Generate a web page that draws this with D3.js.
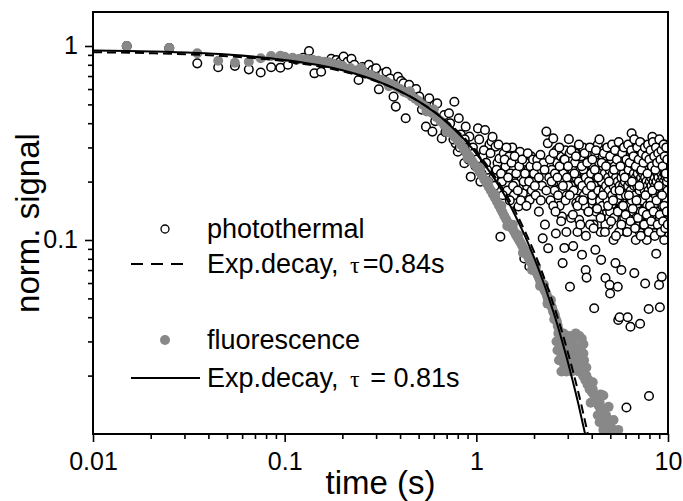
<!DOCTYPE html>
<html>
<head>
<meta charset="utf-8">
<script src="https://cdn.jsdelivr.net/npm/d3@7"></script>
<style>
  body { margin: 0; background: #fff; }
  svg { display: block; font-family: "Liberation Sans", Arial, sans-serif; }
</style>
</head>
<body>
<svg id="chart" width="683" height="501"></svg>
<script>
// ---- data: [time (s), normalised signal] ----
const photothermalEarly = [
  [0.015, 1.0], [0.025, 0.976], [0.035, 0.814], [0.045, 0.777], [0.055, 0.79],
  [0.065, 0.758], [0.075, 0.73], [0.085, 0.777]
];

const photothermalDecay = [
  [0.095, 0.773], [0.104, 0.80], [0.115, 0.85], [0.125, 0.87], [0.134, 0.942], [0.143, 0.723],
  [0.155, 0.737], [0.165, 0.82], [0.175, 0.86], [0.186, 0.847], [0.195, 0.83], [0.203, 0.881],
  [0.213, 0.83], [0.223, 0.86], [0.231, 0.80], [0.243, 0.668], [0.255, 0.78], [0.265, 0.74],
  [0.275, 0.80], [0.287, 0.752], [0.30, 0.767], [0.31, 0.598], [0.325, 0.72], [0.34, 0.737],
  [0.355, 0.68], [0.37, 0.548], [0.38, 0.487], [0.39, 0.694], [0.405, 0.66], [0.417, 0.642],
  [0.428, 0.424], [0.446, 0.63], [0.465, 0.56], [0.485, 0.60], [0.504, 0.548], [0.525, 0.50],
  [0.546, 0.384], [0.568, 0.537], [0.59, 0.362], [0.605, 0.496], [0.625, 0.506], [0.645, 0.42],
  [0.66, 0.334], [0.68, 0.44], [0.70, 0.39], [0.72, 0.45], [0.74, 0.36], [0.768, 0.516],
  [0.78, 0.315], [0.80, 0.285], [0.81, 0.424], [0.83, 0.35], [0.85, 0.31], [0.866, 0.249],
  [0.88, 0.384], [0.90, 0.29], [0.92, 0.341], [0.935, 0.212], [0.95, 0.269],
  [0.96, 0.30], [0.99, 0.24], [1.02, 0.376], [1.05, 0.2], [1.08, 0.27], [1.11, 0.369],
  [1.14, 0.23], [1.17, 0.31], [1.20, 0.322], [1.23, 0.21], [1.26, 0.303], [1.29, 0.25],
  [1.32, 0.263], [1.335, 0.104], [1.36, 0.2], [1.39, 0.28], [1.42, 0.239], [1.45, 0.18],
  [1.48, 0.269], [1.51, 0.22], [1.54, 0.3], [1.57, 0.17], [1.60, 0.196], [1.63, 0.25],
  [1.66, 0.149], [1.69, 0.285], [1.72, 0.21], [1.75, 0.174], [1.78, 0.0804], [1.81, 0.253],
  [1.84, 0.19], [1.87, 0.23], [1.89, 0.073], [1.90, 0.161], [1.93, 0.27], [1.96, 0.2], [1.98, 0.22]
];

const photothermalDecayExtra = [
  [0.52, 0.47], [0.61, 0.41], [0.69, 0.36], [0.73, 0.40], [0.76, 0.33], [0.82, 0.30],
  [0.87, 0.33], [0.91, 0.26], [0.97, 0.28], [1.005, 0.26], [1.035, 0.33], [1.065, 0.22],
  [1.095, 0.29], [1.125, 0.25], [1.155, 0.2], [1.185, 0.28], [1.215, 0.34], [1.245, 0.19],
  [1.275, 0.23], [1.305, 0.31], [1.345, 0.22], [1.375, 0.17], [1.405, 0.26], [1.435, 0.3],
  [1.465, 0.21], [1.495, 0.16], [1.525, 0.25], [1.555, 0.19], [1.585, 0.27], [1.615, 0.22],
  [1.645, 0.18], [1.675, 0.24], [1.705, 0.16], [1.735, 0.26], [1.765, 0.2], [1.795, 0.22],
  [1.825, 0.15], [1.855, 0.28], [1.885, 0.2], [1.915, 0.24], [1.945, 0.18], [1.975, 0.26]
];

const photothermalTail = [
  [2.00, 0.22], [2.04, 0.17], [2.08, 0.26], [2.12, 0.14], [2.16, 0.275], [2.20, 0.19],
  [2.24, 0.249], [2.28, 0.12], [2.32, 0.362], [2.36, 0.315], [2.40, 0.21], [2.44, 0.16],
  [2.48, 0.23], [2.52, 0.334], [2.56, 0.18], [2.60, 0.108], [2.64, 0.25], [2.68, 0.2],
  [2.72, 0.15], [2.76, 0.27], [2.80, 0.132], [2.84, 0.22], [2.88, 0.091], [2.92, 0.29],
  [2.96, 0.17], [3.00, 0.24], [3.04, 0.331], [3.08, 0.0574], [3.12, 0.19], [3.16, 0.26],
  [3.20, 0.093], [3.24, 0.21], [3.28, 0.28], [3.32, 0.155], [3.36, 0.235], [3.40, 0.18],
  [3.44, 0.127], [3.48, 0.25], [3.52, 0.2], [3.56, 0.084], [3.60, 0.3], [3.64, 0.17],
  [3.68, 0.22], [3.72, 0.070], [3.76, 0.064], [3.80, 0.26], [3.84, 0.14], [3.88, 0.21],
  [3.92, 0.19], [3.96, 0.275], [4.00, 0.28], [4.03, 0.16], [4.06, 0.23], [4.09, 0.12],
  [4.12, 0.0445], [4.15, 0.2], [4.18, 0.089], [4.21, 0.143], [4.24, 0.25], [4.27, 0.18],
  [4.30, 0.31], [4.33, 0.22], [4.36, 0.15], [4.39, 0.27], [4.42, 0.19], [4.45, 0.11],
  [4.48, 0.079], [4.51, 0.24], [4.54, 0.17], [4.57, 0.21], [4.60, 0.13], [4.63, 0.29],
  [4.66, 0.2], [4.69, 0.16], [4.72, 0.0637], [4.75, 0.23], [4.78, 0.26], [4.81, 0.14],
  [4.84, 0.19], [4.87, 0.22], [4.90, 0.12], [4.93, 0.269], [4.96, 0.0587], [4.99, 0.053],
  [5.02, 0.18], [5.05, 0.25], [5.08, 0.15], [5.11, 0.21], [5.14, 0.3], [5.17, 0.17],
  [5.20, 0.1], [5.23, 0.24], [5.26, 0.2], [5.29, 0.135], [5.32, 0.076], [5.35, 0.26],
  [5.38, 0.19], [5.41, 0.16], [5.44, 0.22], [5.47, 0.0574], [5.50, 0.0387], [5.53, 0.28],
  [5.56, 0.14], [5.59, 0.04], [5.62, 0.21], [5.65, 0.18], [5.68, 0.291], [5.71, 0.07],
  [5.74, 0.12], [5.77, 0.23], [5.80, 0.17], [5.83, 0.25], [5.86, 0.2], [5.89, 0.15],
  [5.92, 0.27], [5.95, 0.143], [5.98, 0.19], [6.01, 0.22], [6.04, 0.11], [6.07, 0.0137],
  [6.10, 0.24], [6.13, 0.16], [6.16, 0.04], [6.19, 0.3], [6.22, 0.2], [6.25, 0.13],
  [6.28, 0.18], [6.31, 0.26], [6.34, 0.21], [6.37, 0.0357], [6.40, 0.15], [6.43, 0.23],
  [6.46, 0.355], [6.49, 0.17], [6.52, 0.12], [6.55, 0.25], [6.58, 0.19], [6.61, 0.28],
  [6.64, 0.14], [6.67, 0.0675], [6.70, 0.22], [6.73, 0.16], [6.76, 0.2], [6.79, 0.1],
  [6.82, 0.26], [6.85, 0.18], [6.88, 0.23], [6.91, 0.13], [6.94, 0.29], [6.97, 0.17],
  [7.00, 0.21], [7.03, 0.15], [7.06, 0.24], [7.09, 0.19], [7.12, 0.11], [7.15, 0.037],
  [7.18, 0.27], [7.21, 0.2], [7.24, 0.16], [7.27, 0.315], [7.30, 0.22], [7.33, 0.14],
  [7.36, 0.18], [7.39, 0.25], [7.42, 0.12], [7.45, 0.2], [7.48, 0.23], [7.51, 0.17],
  [7.54, 0.28], [7.57, 0.132], [7.60, 0.0597], [7.63, 0.21], [7.66, 0.15], [7.69, 0.26],
  [7.72, 0.19], [7.75, 0.1], [7.78, 0.24], [7.81, 0.17], [7.84, 0.22], [7.87, 0.13],
  [7.90, 0.3], [7.93, 0.0441], [7.96, 0.0157], [7.99, 0.2], [8.02, 0.16], [8.05, 0.25],
  [8.08, 0.18], [8.11, 0.12], [8.14, 0.27], [8.17, 0.21], [8.20, 0.15], [8.23, 0.23],
  [8.26, 0.19], [8.29, 0.34], [8.32, 0.14], [8.35, 0.2], [8.38, 0.26], [8.41, 0.11],
  [8.44, 0.17], [8.47, 0.22], [8.50, 0.29], [8.53, 0.16], [8.56, 0.24], [8.59, 0.13],
  [8.62, 0.19], [8.65, 0.21], [8.68, 0.085], [8.71, 0.27], [8.74, 0.18], [8.77, 0.15],
  [8.80, 0.23], [8.83, 0.2], [8.86, 0.12], [8.89, 0.291], [8.92, 0.17], [8.95, 0.25],
  [8.98, 0.0587], [9.01, 0.21], [9.04, 0.14], [9.07, 0.045], [9.10, 0.19], [9.13, 0.26],
  [9.16, 0.16], [9.19, 0.22], [9.22, 0.11], [9.25, 0.28], [9.28, 0.0646], [9.31, 0.18],
  [9.34, 0.24], [9.37, 0.15], [9.40, 0.2], [9.43, 0.13], [9.46, 0.27], [9.49, 0.17],
  [9.52, 0.23], [9.55, 0.1], [9.58, 0.31], [9.61, 0.19], [9.64, 0.16], [9.67, 0.25],
  [9.70, 0.21], [9.73, 0.14], [9.76, 0.22], [9.79, 0.18], [9.82, 0.28], [9.85, 0.12],
  [9.88, 0.2], [9.91, 0.24], [9.94, 0.16], [9.97, 0.3]
];

const photothermalTailB = [
  [2.02, 0.19], [2.07, 0.24], [2.12, 0.21], [2.17, 0.16], [2.22, 0.102], [2.27, 0.23],
  [2.32, 0.18], [2.37, 0.0906], [2.42, 0.26], [2.47, 0.2], [2.52, 0.15], [2.57, 0.22],
  [2.62, 0.29], [2.67, 0.17], [2.72, 0.24], [2.77, 0.2], [2.82, 0.076], [2.87, 0.26],
  [2.92, 0.16], [2.97, 0.21], [3.02, 0.19], [3.07, 0.28], [3.12, 0.13], [3.17, 0.23],
  [3.22, 0.18], [3.27, 0.25], [3.32, 0.21], [3.37, 0.11], [3.42, 0.2], [3.47, 0.16],
  [3.52, 0.27], [3.57, 0.19], [3.62, 0.23], [3.67, 0.15], [3.72, 0.21], [3.77, 0.18],
  [3.82, 0.25], [3.87, 0.2], [3.92, 0.12], [3.97, 0.22], [4.02, 0.17], [4.07, 0.24],
  [4.12, 0.19], [4.17, 0.28], [4.22, 0.14], [4.27, 0.21], [4.32, 0.18], [4.37, 0.25],
  [4.42, 0.16], [4.47, 0.22], [4.52, 0.2], [4.57, 0.27], [4.62, 0.15], [4.67, 0.19],
  [4.72, 0.23], [4.77, 0.17], [4.82, 0.26], [4.87, 0.21], [4.92, 0.13], [4.97, 0.2],
  [5.02, 0.24], [5.07, 0.18], [5.12, 0.22], [5.17, 0.28], [5.22, 0.16], [5.27, 0.19],
  [5.32, 0.25], [5.37, 0.14], [5.42, 0.21], [5.47, 0.18], [5.52, 0.23], [5.57, 0.2],
  [5.62, 0.27], [5.67, 0.15], [5.72, 0.22], [5.77, 0.19], [5.82, 0.12], [5.87, 0.24],
  [5.92, 0.17], [5.97, 0.21], [6.02, 0.26], [6.07, 0.19], [6.12, 0.14], [6.17, 0.23],
  [6.22, 0.18], [6.27, 0.29], [6.32, 0.2], [6.37, 0.16], [6.42, 0.22], [6.47, 0.25],
  [6.52, 0.18], [6.57, 0.13], [6.62, 0.21], [6.67, 0.24], [6.72, 0.17], [6.77, 0.27],
  [6.82, 0.2], [6.87, 0.15], [6.92, 0.22], [6.97, 0.19], [7.02, 0.26], [7.07, 0.12],
  [7.12, 0.21], [7.17, 0.18], [7.22, 0.24], [7.27, 0.16], [7.32, 0.2], [7.37, 0.28],
  [7.42, 0.17], [7.47, 0.22], [7.52, 0.14], [7.57, 0.25], [7.62, 0.19], [7.67, 0.21],
  [7.72, 0.16], [7.77, 0.27], [7.82, 0.2], [7.87, 0.18], [7.92, 0.23], [7.97, 0.13],
  [8.02, 0.21], [8.07, 0.26], [8.12, 0.17], [8.17, 0.19], [8.22, 0.24], [8.27, 0.15],
  [8.32, 0.22], [8.37, 0.2], [8.42, 0.3], [8.47, 0.18], [8.52, 0.12], [8.57, 0.23],
  [8.62, 0.17], [8.67, 0.25], [8.72, 0.2], [8.77, 0.14], [8.82, 0.21], [8.87, 0.19],
  [8.92, 0.27], [8.97, 0.16], [9.02, 0.22], [9.07, 0.18], [9.12, 0.24], [9.17, 0.13],
  [9.22, 0.2], [9.27, 0.26], [9.32, 0.17], [9.37, 0.21], [9.42, 0.19], [9.47, 0.15],
  [9.52, 0.25], [9.57, 0.2], [9.62, 0.12], [9.67, 0.23], [9.72, 0.18], [9.77, 0.27],
  [9.82, 0.16], [9.87, 0.21], [9.92, 0.19], [9.97, 0.24]
];

const photothermalTailC = [
  [4.51, 0.2], [4.55, 0.15], [4.59, 0.24], [4.63, 0.18], [4.67, 0.22], [4.71, 0.12],
  [4.75, 0.19], [4.79, 0.27], [4.83, 0.16], [4.87, 0.21], [4.91, 0.18], [4.95, 0.23],
  [4.99, 0.14], [5.03, 0.2], [5.07, 0.26], [5.11, 0.17], [5.15, 0.22], [5.19, 0.19],
  [5.23, 0.13], [5.27, 0.24], [5.31, 0.18], [5.35, 0.21], [5.39, 0.28], [5.43, 0.16],
  [5.47, 0.2], [5.51, 0.23], [5.55, 0.11], [5.59, 0.19], [5.63, 0.25], [5.67, 0.17],
  [5.71, 0.21], [5.75, 0.15], [5.79, 0.26], [5.83, 0.19], [5.87, 0.22], [5.91, 0.13],
  [5.95, 0.2], [5.99, 0.24], [6.03, 0.17], [6.07, 0.27], [6.11, 0.21], [6.15, 0.15],
  [6.19, 0.19], [6.23, 0.23], [6.27, 0.12], [6.31, 0.2], [6.35, 0.25], [6.39, 0.18],
  [6.43, 0.21], [6.47, 0.16], [6.51, 0.28], [6.55, 0.2], [6.59, 0.14], [6.63, 0.22],
  [6.67, 0.19], [6.71, 0.24], [6.75, 0.17], [6.79, 0.21], [6.83, 0.13], [6.87, 0.26],
  [6.91, 0.19], [6.95, 0.22], [6.99, 0.16], [7.03, 0.2], [7.07, 0.25], [7.11, 0.18],
  [7.15, 0.23], [7.19, 0.14], [7.23, 0.21], [7.27, 0.19], [7.31, 0.27], [7.35, 0.16],
  [7.39, 0.22], [7.43, 0.2], [7.47, 0.12], [7.51, 0.24], [7.55, 0.18], [7.59, 0.21],
  [7.63, 0.26], [7.67, 0.17], [7.71, 0.2], [7.75, 0.23], [7.79, 0.15], [7.83, 0.19],
  [7.87, 0.25], [7.91, 0.18], [7.95, 0.22], [7.99, 0.13], [8.03, 0.2], [8.07, 0.27],
  [8.11, 0.16], [8.15, 0.21], [8.19, 0.19], [8.23, 0.24], [8.27, 0.12], [8.31, 0.22],
  [8.35, 0.18], [8.39, 0.2], [8.43, 0.26], [8.47, 0.15], [8.51, 0.21], [8.55, 0.19],
  [8.59, 0.23], [8.63, 0.17], [8.67, 0.28], [8.71, 0.2], [8.75, 0.14], [8.79, 0.22],
  [8.83, 0.18], [8.87, 0.25], [8.91, 0.21], [8.95, 0.16], [8.99, 0.19], [9.03, 0.23],
  [9.07, 0.13], [9.11, 0.27], [9.15, 0.2], [9.19, 0.17], [9.23, 0.22], [9.27, 0.19],
  [9.31, 0.25], [9.35, 0.15], [9.39, 0.21], [9.43, 0.18], [9.47, 0.24], [9.51, 0.2],
  [9.55, 0.14], [9.59, 0.22], [9.63, 0.19], [9.67, 0.28], [9.71, 0.17], [9.75, 0.21],
  [9.79, 0.25], [9.83, 0.16], [9.87, 0.2], [9.91, 0.23], [9.95, 0.18], [9.99, 0.21]
];

const photothermalTailD = [
  [2.53, 0.28], [2.59, 0.14], [2.65, 0.21], [2.71, 0.3], [2.77, 0.125], [2.83, 0.19],
  [2.89, 0.26], [2.95, 0.11], [3.01, 0.24], [3.07, 0.17], [3.13, 0.29], [3.19, 0.135],
  [3.25, 0.22], [3.31, 0.27], [3.37, 0.15], [3.43, 0.31], [3.49, 0.12], [3.55, 0.24],
  [3.61, 0.16], [3.67, 0.28], [3.73, 0.105], [3.79, 0.25], [3.85, 0.14], [3.91, 0.3],
  [3.97, 0.19], [4.03, 0.26], [4.09, 0.115], [4.15, 0.23], [4.21, 0.29], [4.27, 0.145],
  [4.33, 0.21], [4.39, 0.33], [4.45, 0.13], [4.51, 0.25], [4.57, 0.17], [4.63, 0.28],
  [4.69, 0.11], [4.75, 0.24], [4.81, 0.3], [4.87, 0.15], [4.93, 0.2], [4.99, 0.27],
  [5.05, 0.125], [5.11, 0.31], [5.17, 0.16], [5.23, 0.23], [5.29, 0.29], [5.35, 0.105],
  [5.41, 0.26], [5.47, 0.14], [5.53, 0.32], [5.59, 0.18], [5.65, 0.24], [5.71, 0.12],
  [5.77, 0.28], [5.83, 0.15], [5.89, 0.3], [5.95, 0.21], [6.01, 0.135], [6.07, 0.26],
  [6.13, 0.11], [6.19, 0.31], [6.25, 0.17], [6.31, 0.25], [6.37, 0.125], [6.43, 0.29],
  [6.49, 0.2], [6.55, 0.145], [6.61, 0.27], [6.67, 0.33], [6.73, 0.115], [6.79, 0.24],
  [6.85, 0.16], [6.91, 0.3], [6.97, 0.13], [7.03, 0.26], [7.09, 0.19], [7.15, 0.32],
  [7.21, 0.105], [7.27, 0.23], [7.33, 0.28], [7.39, 0.14], [7.45, 0.25], [7.51, 0.12],
  [7.57, 0.3], [7.63, 0.17], [7.69, 0.27], [7.75, 0.135], [7.81, 0.22], [7.87, 0.31],
  [7.93, 0.11], [7.99, 0.26], [8.05, 0.15], [8.11, 0.29], [8.17, 0.125], [8.23, 0.24],
  [8.29, 0.18], [8.35, 0.32], [8.41, 0.14], [8.47, 0.27], [8.53, 0.105], [8.59, 0.23],
  [8.65, 0.3], [8.71, 0.16], [8.77, 0.25], [8.83, 0.12], [8.89, 0.28], [8.95, 0.19],
  [9.01, 0.33], [9.07, 0.135], [9.13, 0.26], [9.19, 0.11], [9.25, 0.29], [9.31, 0.17],
  [9.37, 0.24], [9.43, 0.125], [9.49, 0.31], [9.55, 0.15], [9.61, 0.27], [9.67, 0.115],
  [9.73, 0.22], [9.79, 0.3], [9.85, 0.14], [9.91, 0.26], [9.97, 0.12]
];

const fluorescenceEarly = [
  [0.015, 1.0], [0.025, 0.976], [0.035, 0.917], [0.045, 0.84], [0.055, 0.82],
  [0.065, 0.83], [0.075, 0.864], [0.085, 0.888], [0.095, 0.89]
];

const fluorescenceDecay = [
  [0.10, 0.88], [0.11, 0.87], [0.12, 0.86], [0.13, 0.855], [0.14, 0.85], [0.15, 0.84],
  [0.16, 0.83], [0.17, 0.825], [0.18, 0.81], [0.19, 0.80], [0.20, 0.79], [0.22, 0.77],
  [0.24, 0.75], [0.26, 0.73], [0.28, 0.71], [0.30, 0.69], [0.32, 0.67], [0.34, 0.655],
  [0.36, 0.635], [0.38, 0.62], [0.40, 0.60], [0.42, 0.58], [0.44, 0.57], [0.46, 0.55],
  [0.48, 0.535], [0.50, 0.52], [0.53, 0.495], [0.56, 0.475], [0.59, 0.45], [0.62, 0.43],
  [0.65, 0.41], [0.68, 0.39], [0.71, 0.375], [0.74, 0.355], [0.77, 0.34], [0.80, 0.325],
  [0.83, 0.31], [0.86, 0.295], [0.89, 0.28], [0.92, 0.27], [0.95, 0.255], [0.98, 0.245],
  [1.01, 0.235], [1.04, 0.225], [1.07, 0.215], [1.10, 0.205], [1.13, 0.196], [1.16, 0.188],
  [1.19, 0.18], [1.22, 0.172], [1.25, 0.165], [1.28, 0.158], [1.31, 0.151], [1.34, 0.145],
  [1.37, 0.139], [1.40, 0.133], [1.43, 0.128], [1.46, 0.123], [1.49, 0.119], [1.52, 0.116],
  [1.55, 0.114], [1.58, 0.11], [1.61, 0.106], [1.64, 0.103], [1.67, 0.1], [1.70, 0.097],
  [1.73, 0.094], [1.76, 0.091], [1.79, 0.088], [1.82, 0.085], [1.85, 0.083], [1.88, 0.08],
  [1.91, 0.078], [1.94, 0.076], [1.97, 0.074], [2.00, 0.072], [2.03, 0.07], [2.06, 0.068],
  [2.09, 0.066], [2.12, 0.064], [2.15, 0.062], [2.18, 0.06], [2.21, 0.059], [2.24, 0.057],
  [2.27, 0.055], [2.30, 0.054], [2.33, 0.052], [2.36, 0.05], [2.39, 0.049], [2.42, 0.047],
  [2.45, 0.046], [2.48, 0.045], [2.51, 0.043], [2.54, 0.042], [2.57, 0.041], [2.60, 0.039],
  [2.63, 0.038], [2.66, 0.036]
];

const fluorescenceSpread = [
  [0.25, 0.77], [0.35, 0.62], [0.45, 0.585], [0.55, 0.46], [0.6, 0.47], [0.7, 0.36],
  [0.8, 0.34], [0.9, 0.265], [1.05, 0.235], [1.15, 0.2], [1.25, 0.172], [1.35, 0.15],
  [1.45, 0.118], [1.55, 0.12], [1.65, 0.106], [1.75, 0.086], [1.85, 0.087], [1.95, 0.07],
  [2.05, 0.073], [2.15, 0.058], [2.25, 0.059], [2.35, 0.047], [2.45, 0.049], [2.55, 0.039]
];

const fluorescenceTail = [
  [2.62, 0.030], [2.65, 0.027], [2.68, 0.033], [2.70, 0.024], [2.72, 0.031], [2.75, 0.028],
  [2.78, 0.025], [2.80, 0.032], [2.83, 0.029], [2.86, 0.023], [2.88, 0.030], [2.91, 0.027],
  [2.94, 0.031], [2.97, 0.025], [3.00, 0.028], [3.03, 0.022], [3.06, 0.029], [3.09, 0.026],
  [3.12, 0.030], [3.15, 0.024], [3.18, 0.027], [3.21, 0.025], [3.24, 0.028], [3.27, 0.023],
  [3.30, 0.025], [3.34, 0.022], [3.38, 0.024], [3.42, 0.021], [3.46, 0.023], [3.50, 0.021],
  [3.55, 0.022], [3.60, 0.020], [3.65, 0.021], [3.70, 0.019], [3.75, 0.020], [3.80, 0.018],
  [3.85, 0.019], [3.90, 0.017], [3.95, 0.0175], [4.00, 0.0165], [4.05, 0.017], [4.10, 0.016],
  [4.15, 0.0155], [4.20, 0.015], [4.25, 0.0155], [4.30, 0.0145], [4.35, 0.014], [4.40, 0.0145],
  [4.40, 0.0115], [4.45, 0.0135], [4.50, 0.013], [4.55, 0.0135], [4.60, 0.0128], [4.60, 0.0105],
  [4.65, 0.0125], [4.70, 0.012], [4.75, 0.0125], [4.80, 0.0118], [4.80, 0.0100], [4.85, 0.0115],
  [4.90, 0.0112], [4.95, 0.0115], [5.00, 0.011], [5.05, 0.0108], [5.10, 0.0105], [5.20, 0.0102],
  [5.30, 0.0100], [5.40, 0.0098]
];

const fluorescenceBulge = [
  [2.70, 0.034], [2.78, 0.021], [2.85, 0.033], [2.95, 0.021], [3.05, 0.032], [3.15, 0.021],
  [3.25, 0.031], [3.35, 0.026], [3.45, 0.028], [3.55, 0.024], [3.62, 0.026], [3.05, 0.026],
  [2.90, 0.025], [3.40, 0.0225], [3.95, 0.0145], [4.30, 0.0125], [4.60, 0.0158],
  [4.90, 0.0138], [5.20, 0.0118], [5.50, 0.0105], [3.30, 0.033], [3.45, 0.032],
  [3.55, 0.031], [3.62, 0.029], [3.65, 0.024], [3.50, 0.027], [3.20, 0.028], [3.75, 0.022],
  [4.05, 0.0185], [4.45, 0.016]
];

// exponential fits, tabulated
const fitTimes = [0.01, 0.02, 0.05, 0.1, 0.15, 0.2, 0.3, 0.4, 0.5, 0.6, 0.7, 0.8, 0.9, 1.0,
  1.2, 1.4, 1.6, 1.8, 2.0, 2.2, 2.4, 2.6, 2.8, 3.0, 3.2, 3.4, 3.6, 3.8, 4.0];
const fitPhotothermal = [0.929, 0.918, 0.886, 0.835, 0.786, 0.741, 0.658, 0.584, 0.518, 0.460,
  0.409, 0.363, 0.322, 0.286, 0.225, 0.178, 0.140, 0.110, 0.0870, 0.0685, 0.0540, 0.0426,
  0.0336, 0.0264, 0.0209, 0.0165, 0.0130, 0.0102, 0.0080];
const fitFluorescence = [0.948, 0.937, 0.903, 0.848, 0.798, 0.750, 0.663, 0.586, 0.518, 0.458,
  0.405, 0.357, 0.316, 0.279, 0.218, 0.171, 0.133, 0.104, 0.0813, 0.0635, 0.0496, 0.0388,
  0.0302, 0.0236, 0.0184, 0.0144, 0.0112, 0.0088, 0.0069];

const xMajor = [0.01, 0.1, 1, 10];
const xMinor = [0.02, 0.03, 0.04, 0.05, 0.06, 0.07, 0.08, 0.09, 0.2, 0.3, 0.4, 0.5, 0.6, 0.7, 0.8, 0.9,
  2, 3, 4, 5, 6, 7, 8, 9];
const yMajor = [0.1, 1];
const yMinor = [0.02, 0.03, 0.04, 0.05, 0.06, 0.07, 0.08, 0.09, 0.2, 0.3, 0.4, 0.5, 0.6, 0.7, 0.8, 0.9];

const legendLabels = ["photothermal", "Exp.decay, τ=0.84s", "fluorescence", "Exp.decay, τ = 0.81s"];

// ---- layout ----
const plot = { left: 93, right: 668, top: 12, bottom: 434 };
const svg = d3.select("#chart");

const x = d3.scaleLog().domain([0.01, 10]).range([plot.left, plot.right]);
const y = d3.scaleLog().domain([0.01, 1.497]).range([plot.bottom, plot.top]);

svg.append("defs").append("clipPath").attr("id", "plot-clip")
  .append("rect")
  .attr("x", plot.left).attr("y", plot.top)
  .attr("width", plot.right - plot.left).attr("height", plot.bottom - plot.top);

const g = svg.append("g").attr("clip-path", "url(#plot-clip)");

const photothermal = photothermalEarly.concat(photothermalDecay, photothermalDecayExtra,
  photothermalTail, photothermalTailB, photothermalTailC, photothermalTailD);
const fluorescence = fluorescenceEarly.concat(fluorescenceDecay, fluorescenceSpread,
  fluorescenceTail, fluorescenceBulge);

g.selectAll(".pt").data(photothermal).enter().append("circle")
  .attr("class", "pt")
  .attr("cx", d => x(d[0])).attr("cy", d => y(d[1]))
  .attr("r", 4.3)
  .attr("fill", "#fff").attr("stroke", "#000").attr("stroke-width", 1.5);

g.selectAll(".fl").data(fluorescence).enter().append("circle")
  .attr("class", "fl")
  .attr("cx", d => x(d[0])).attr("cy", d => y(d[1]))
  .attr("r", 5)
  .attr("fill", "#888888");

const fitLine = vals => d3.line()
  .x((d, i) => x(fitTimes[i]))
  .y(d => y(d))
  .curve(d3.curveMonotoneX)(vals);

g.append("path").attr("d", fitLine(fitPhotothermal))
  .attr("fill", "none").attr("stroke", "#000").attr("stroke-width", 2)
  .attr("stroke-dasharray", "9,5");

g.append("path").attr("d", fitLine(fitFluorescence))
  .attr("fill", "none").attr("stroke", "#000").attr("stroke-width", 2);

// ---- frame and axes ----
svg.append("rect")
  .attr("x", plot.left).attr("y", plot.top)
  .attr("width", plot.right - plot.left).attr("height", plot.bottom - plot.top)
  .attr("fill", "none").attr("stroke", "#000").attr("stroke-width", 2);

const styleAxis = sel => {
  sel.select(".domain").remove();
  sel.selectAll(".tick line").attr("stroke", "#000").attr("stroke-width", 1.6);
  sel.selectAll(".tick text").attr("fill", "#000")
    .style("font-family", '"Liberation Sans", Arial, sans-serif')
    .style("font-size", "25px");
};

svg.append("g").attr("transform", `translate(0,${plot.bottom})`)
  .call(d3.axisBottom(x).tickValues(xMinor).tickSize(5).tickFormat(""))
  .call(styleAxis);
svg.append("g").attr("transform", `translate(0,${plot.bottom})`)
  .call(d3.axisBottom(x).tickValues(xMajor).tickSize(8).tickPadding(10).tickFormat(d => String(d)))
  .call(styleAxis);

svg.append("g").attr("transform", `translate(${plot.left},0)`)
  .call(d3.axisLeft(y).tickValues(yMinor).tickSize(5).tickFormat(""))
  .call(styleAxis);
svg.append("g").attr("transform", `translate(${plot.left},0)`)
  .call(d3.axisLeft(y).tickValues(yMajor).tickSize(8).tickPadding(7).tickFormat(d => String(d)))
  .call(styleAxis);

svg.append("text")
  .attr("x", (plot.left + plot.right) / 2).attr("y", 494)
  .attr("text-anchor", "middle")
  .style("font-size", "33px")
  .text("time (s)");

svg.append("text")
  .attr("transform", `translate(39,${(plot.top + plot.bottom) / 2}) rotate(-90)`)
  .attr("text-anchor", "middle")
  .style("font-size", "33px")
  .text("norm. signal");

// ---- legend ----
const legendRows = [
  { label: legendLabels[0], y: 229, kind: "open" },
  { label: legendLabels[1], y: 264, kind: "dash" },
  { label: legendLabels[2], y: 340, kind: "dot" },
  { label: legendLabels[3], y: 378, kind: "solid" }
];

const legend = svg.append("g");
legendRows.forEach(row => {
  if (row.kind === "open") {
    legend.append("circle").attr("cx", 165).attr("cy", row.y).attr("r", 4)
      .attr("fill", "#fff").attr("stroke", "#000").attr("stroke-width", 1.3);
  } else if (row.kind === "dot") {
    legend.append("circle").attr("cx", 165).attr("cy", row.y).attr("r", 5).attr("fill", "#888888");
  } else if (row.kind === "dash") {
    legend.append("line").attr("x1", 131).attr("x2", 183).attr("y1", row.y).attr("y2", row.y)
      .attr("stroke", "#000").attr("stroke-width", 2).attr("stroke-dasharray", "12,8");
  } else {
    legend.append("line").attr("x1", 131).attr("x2", 200).attr("y1", row.y).attr("y2", row.y)
      .attr("stroke", "#000").attr("stroke-width", 2);
  }
  const t = legend.append("text").attr("x", 207).attr("y", row.y + 9).style("font-size", "27px");
  const parts = row.label.split("τ");
  t.append("tspan").text(parts[0]);
  if (parts.length > 1) {
    t.append("tspan").attr("dx", 4).style("font-family", '"Liberation Serif", serif')
      .style("font-size", "24px").text("τ");
    t.append("tspan").attr("dx", 3).text(parts[1]);
  }
});
</script>
</body>
</html>
